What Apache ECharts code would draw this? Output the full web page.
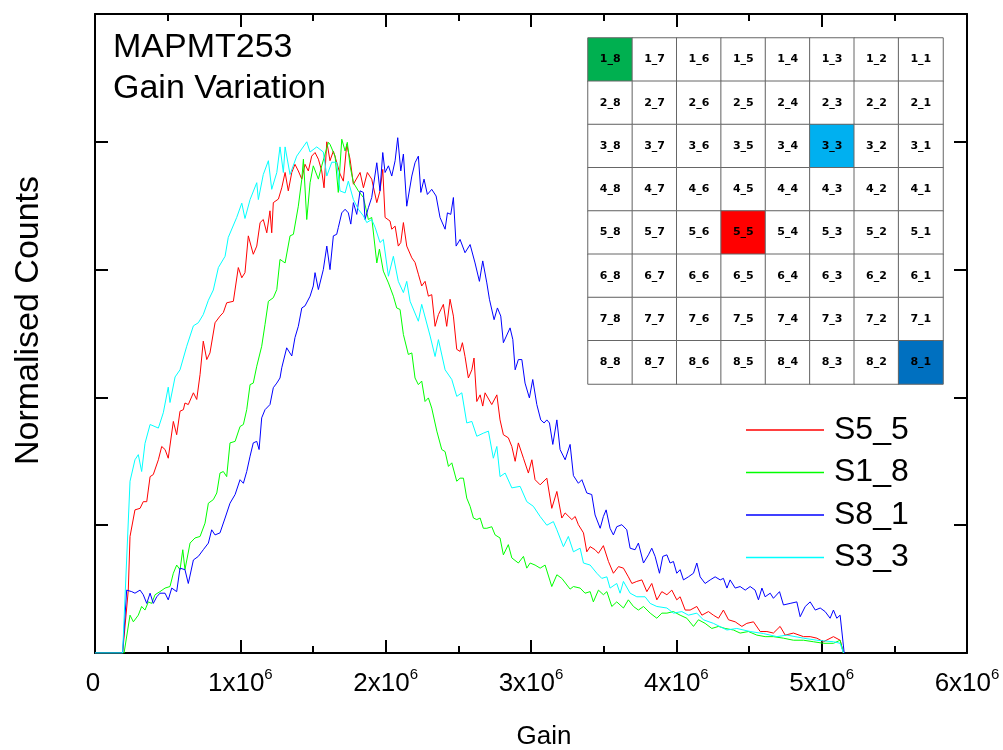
<!DOCTYPE html>
<html>
<head>
<meta charset="utf-8">
<script src="https://cdn.jsdelivr.net/npm/echarts@6/dist/echarts.min.js"></script>
<style>
  html, body { margin: 0; padding: 0; background: #fff; }
  #chart { width: 1003px; height: 750px; }
</style>
</head>
<body>
<div id="chart"></div>
<script>
// gain is stored in units of 1e6
const GAIN_UNIT = 1e6

const s5_5 = [[0,0],[0.19,0],[0.229,0.123],[0.241,0.228],[0.275,0.28],[0.31,0.283],[0.332,0.296],[0.356,0.296],[0.379,0.345],[0.401,0.349],[0.436,0.378],[0.459,0.404],[0.482,0.398],[0.504,0.381],[0.539,0.453],[0.562,0.427],[0.585,0.473],[0.608,0.476],[0.619,0.489],[0.642,0.486],[0.677,0.509],[0.7,0.496],[0.723,0.545],[0.745,0.61],[0.769,0.574],[0.791,0.587],[0.826,0.646],[0.86,0.659],[0.883,0.666],[0.906,0.685],[0.952,0.688],[0.986,0.754],[1.01,0.734],[1.032,0.744],[1.055,0.816],[1.089,0.78],[1.113,0.796],[1.136,0.842],[1.158,0.848],[1.182,0.822],[1.204,0.865],[1.216,0.822],[1.227,0.881],[1.262,0.888],[1.285,0.91],[1.308,0.94],[1.33,0.904],[1.354,0.94],[1.376,0.956],[1.399,0.943],[1.423,0.927],[1.445,0.956],[1.468,0.943],[1.491,0.972],[1.514,0.979],[1.537,0.966],[1.56,0.943],[1.576,0.91],[1.595,1.0],[1.617,0.963],[1.64,0.982],[1.663,0.96],[1.686,0.937],[1.709,0.923],[1.732,0.995],[1.755,0.966],[1.778,0.917],[1.824,0.94],[1.847,0.91],[1.874,0.94],[1.904,0.927],[1.939,0.881],[1.961,0.904],[1.98,0.946],[1.996,0.852],[2.03,0.845],[2.042,0.829],[2.065,0.835],[2.087,0.796],[2.104,0.803],[2.122,0.842],[2.145,0.796],[2.18,0.773],[2.202,0.764],[2.225,0.741],[2.248,0.718],[2.271,0.727],[2.294,0.698],[2.317,0.701],[2.34,0.639],[2.363,0.662],[2.397,0.682],[2.42,0.639],[2.443,0.692],[2.466,0.659],[2.489,0.594],[2.512,0.59],[2.528,0.607],[2.546,0.58],[2.569,0.538],[2.593,0.554],[2.608,0.577],[2.627,0.492],[2.65,0.505],[2.668,0.483],[2.684,0.509],[2.73,0.486],[2.765,0.505],[2.787,0.456],[2.81,0.427],[2.844,0.421],[2.868,0.404],[2.891,0.375],[2.913,0.411],[2.948,0.381],[2.982,0.352],[3.006,0.378],[3.028,0.339],[3.063,0.329],[3.109,0.342],[3.143,0.283],[3.178,0.316],[3.212,0.264],[3.235,0.274],[3.281,0.261],[3.304,0.267],[3.326,0.251],[3.361,0.235],[3.384,0.198],[3.407,0.208],[3.441,0.202],[3.464,0.195],[3.498,0.21],[3.533,0.179],[3.567,0.156],[3.602,0.169],[3.636,0.166],[3.67,0.149],[3.694,0.136],[3.728,0.14],[3.763,0.143],[3.797,0.12],[3.831,0.136],[3.866,0.104],[3.9,0.12],[3.935,0.114],[3.969,0.123],[4.003,0.104],[4.026,0.11],[4.061,0.084],[4.095,0.084],[4.141,0.091],[4.176,0.074],[4.221,0.081],[4.255,0.074],[4.29,0.068],[4.324,0.084],[4.359,0.065],[4.405,0.061],[4.451,0.052],[4.485,0.058],[4.531,0.061],[4.577,0.042],[4.623,0.042],[4.668,0.039],[4.714,0.052],[4.749,0.035],[4.806,0.039],[4.875,0.032],[4.921,0.032],[4.967,0.029],[5.012,0.022],[5.081,0.032],[5.127,0.025],[5.15,0]]

const s1_8 = [[0,0],[0.2,0],[0.241,0.074],[0.264,0.061],[0.298,0.074],[0.321,0.091],[0.344,0.084],[0.367,0.1],[0.39,0.097],[0.413,0.114],[0.447,0.12],[0.482,0.127],[0.516,0.13],[0.539,0.156],[0.562,0.172],[0.585,0.163],[0.604,0.202],[0.619,0.163],[0.654,0.215],[0.688,0.225],[0.723,0.228],[0.757,0.254],[0.78,0.293],[0.814,0.3],[0.838,0.313],[0.86,0.352],[0.883,0.355],[0.906,0.345],[0.929,0.411],[0.964,0.414],[0.998,0.443],[1.021,0.447],[1.044,0.476],[1.067,0.525],[1.089,0.528],[1.113,0.561],[1.147,0.6],[1.17,0.643],[1.193,0.688],[1.227,0.695],[1.251,0.711],[1.273,0.77],[1.308,0.763],[1.342,0.816],[1.365,0.819],[1.399,0.874],[1.423,0.927],[1.434,0.966],[1.457,0.848],[1.48,0.92],[1.502,0.953],[1.537,0.927],[1.56,0.953],[1.583,0.976],[1.606,0.999],[1.617,0.995],[1.652,0.972],[1.674,0.901],[1.698,1.005],[1.721,0.982],[1.736,0.999],[1.755,0.953],[1.778,0.92],[1.812,0.904],[1.847,0.891],[1.881,0.848],[1.904,0.852],[1.939,0.763],[1.957,0.79],[1.984,0.747],[2.019,0.724],[2.053,0.698],[2.076,0.675],[2.099,0.672],[2.122,0.623],[2.156,0.584],[2.18,0.587],[2.202,0.538],[2.225,0.525],[2.248,0.532],[2.271,0.492],[2.294,0.499],[2.317,0.479],[2.352,0.434],[2.386,0.398],[2.409,0.394],[2.432,0.365],[2.455,0.372],[2.489,0.336],[2.512,0.342],[2.535,0.342],[2.558,0.303],[2.581,0.287],[2.604,0.264],[2.627,0.261],[2.65,0.264],[2.672,0.244],[2.696,0.244],[2.73,0.247],[2.753,0.231],[2.787,0.225],[2.81,0.192],[2.844,0.212],[2.868,0.186],[2.913,0.176],[2.948,0.189],[2.971,0.166],[2.994,0.176],[3.028,0.172],[3.063,0.166],[3.097,0.172],[3.143,0.13],[3.178,0.153],[3.212,0.146],[3.269,0.125],[3.292,0.13],[3.338,0.127],[3.372,0.117],[3.407,0.12],[3.429,0.1],[3.464,0.123],[3.498,0.114],[3.522,0.12],[3.556,0.091],[3.59,0.1],[3.636,0.088],[3.67,0.104],[3.705,0.091],[3.739,0.084],[3.774,0.091],[3.82,0.078],[3.866,0.068],[3.9,0.078],[3.935,0.078],[3.98,0.081],[4.026,0.074],[4.072,0.068],[4.118,0.052],[4.152,0.065],[4.198,0.058],[4.244,0.048],[4.29,0.052],[4.336,0.048],[4.393,0.045],[4.439,0.039],[4.496,0.042],[4.554,0.035],[4.611,0.032],[4.668,0.032],[4.737,0.029],[4.806,0.025],[4.875,0.025],[4.944,0.022],[5.012,0.019],[5.081,0.019],[5.127,0.025],[5.15,0]]

const s8_1 = [[0,0],[0.19,0],[0.218,0.123],[0.253,0.12],[0.275,0.117],[0.31,0.123],[0.332,0.114],[0.356,0.097],[0.379,0.117],[0.401,0.097],[0.425,0.11],[0.447,0.117],[0.482,0.117],[0.504,0.104],[0.528,0.127],[0.562,0.12],[0.585,0.166],[0.619,0.163],[0.642,0.136],[0.677,0.182],[0.711,0.189],[0.745,0.202],[0.78,0.215],[0.803,0.241],[0.826,0.231],[0.86,0.235],[0.895,0.264],[0.929,0.293],[0.964,0.31],[0.998,0.339],[1.021,0.332],[1.044,0.355],[1.067,0.385],[1.089,0.411],[1.113,0.414],[1.129,0.398],[1.147,0.46],[1.17,0.476],[1.204,0.486],[1.227,0.519],[1.251,0.528],[1.273,0.538],[1.285,0.558],[1.319,0.597],[1.354,0.581],[1.376,0.617],[1.399,0.639],[1.423,0.675],[1.445,0.679],[1.48,0.698],[1.502,0.718],[1.514,0.744],[1.537,0.711],[1.571,0.75],[1.595,0.796],[1.617,0.75],[1.64,0.816],[1.663,0.819],[1.674,0.832],[1.698,0.861],[1.721,0.868],[1.743,0.861],[1.76,0.839],[1.778,0.881],[1.801,0.858],[1.824,0.904],[1.847,0.901],[1.858,0.848],[1.881,0.871],[1.904,0.891],[1.939,0.959],[1.961,0.904],[1.98,0.979],[1.996,0.94],[2.019,0.953],[2.042,0.933],[2.065,0.963],[2.083,1.008],[2.104,0.943],[2.122,0.976],[2.145,0.874],[2.18,0.933],[2.202,0.959],[2.225,0.972],[2.242,0.901],[2.264,0.927],[2.287,0.897],[2.317,0.907],[2.347,0.894],[2.374,0.852],[2.409,0.829],[2.425,0.861],[2.448,0.858],[2.466,0.891],[2.485,0.796],[2.512,0.809],[2.546,0.783],[2.581,0.799],[2.615,0.763],[2.645,0.727],[2.668,0.767],[2.696,0.724],[2.714,0.692],[2.746,0.652],[2.769,0.675],[2.792,0.659],[2.81,0.607],[2.856,0.636],[2.875,0.613],[2.891,0.554],[2.913,0.574],[2.937,0.574],[2.959,0.528],[2.989,0.499],[3.012,0.535],[3.04,0.486],[3.067,0.456],[3.09,0.45],[3.109,0.456],[3.127,0.45],[3.15,0.408],[3.178,0.456],[3.2,0.398],[3.235,0.378],[3.269,0.408],[3.292,0.347],[3.326,0.332],[3.35,0.339],[3.384,0.313],[3.418,0.31],[3.441,0.27],[3.476,0.244],[3.498,0.267],[3.517,0.28],[3.544,0.244],[3.567,0.231],[3.59,0.247],[3.625,0.251],[3.659,0.241],[3.682,0.205],[3.716,0.202],[3.739,0.215],[3.774,0.176],[3.808,0.192],[3.831,0.205],[3.854,0.189],[3.884,0.156],[3.907,0.189],[3.935,0.192],[3.957,0.176],[3.98,0.179],[4.003,0.156],[4.026,0.163],[4.049,0.143],[4.083,0.149],[4.118,0.156],[4.141,0.176],[4.164,0.149],[4.198,0.136],[4.233,0.143],[4.267,0.149],[4.302,0.143],[4.324,0.146],[4.348,0.127],[4.37,0.143],[4.405,0.127],[4.439,0.13],[4.474,0.123],[4.508,0.13],[4.542,0.123],[4.565,0.104],[4.589,0.127],[4.611,0.11],[4.646,0.117],[4.668,0.107],[4.71,0.12],[4.737,0.094],[4.783,0.097],[4.829,0.1],[4.852,0.071],[4.887,0.091],[4.921,0.1],[4.956,0.084],[4.99,0.088],[5.024,0.081],[5.058,0.068],[5.081,0.084],[5.104,0.068],[5.127,0.074],[5.139,0.074],[5.155,0]]

const s3_3 = [[0,0],[0.19,0],[0.241,0.336],[0.275,0.378],[0.298,0.388],[0.321,0.355],[0.344,0.41],[0.379,0.447],[0.436,0.44],[0.47,0.47],[0.504,0.52],[0.516,0.49],[0.551,0.54],[0.585,0.554],[0.631,0.6],[0.677,0.64],[0.711,0.646],[0.745,0.662],[0.78,0.69],[0.814,0.71],[0.849,0.754],[0.895,0.776],[0.917,0.813],[0.975,0.852],[1.01,0.88],[1.032,0.85],[1.067,0.887],[1.113,0.92],[1.124,0.887],[1.158,0.936],[1.193,0.963],[1.216,0.907],[1.251,0.94],[1.273,0.99],[1.296,0.94],[1.308,0.99],[1.342,0.936],[1.388,0.972],[1.457,1.0],[1.48,0.98],[1.526,0.99],[1.571,0.98],[1.595,0.933],[1.629,0.96],[1.663,0.96],[1.686,0.904],[1.721,0.9],[1.743,0.923],[1.778,0.887],[1.812,0.868],[1.847,0.855],[1.87,0.842],[1.904,0.848],[1.927,0.833],[1.961,0.803],[1.984,0.809],[2.019,0.737],[2.053,0.776],[2.087,0.727],[2.122,0.705],[2.145,0.727],[2.168,0.688],[2.225,0.649],[2.248,0.682],[2.306,0.62],[2.34,0.58],[2.363,0.613],[2.409,0.554],[2.455,0.535],[2.489,0.502],[2.524,0.509],[2.558,0.45],[2.593,0.453],[2.627,0.424],[2.672,0.43],[2.707,0.434],[2.741,0.381],[2.765,0.404],[2.787,0.345],[2.822,0.352],[2.868,0.323],[2.925,0.326],[2.971,0.296],[3.016,0.287],[3.063,0.267],[3.109,0.25],[3.154,0.257],[3.178,0.241],[3.223,0.208],[3.257,0.228],[3.292,0.198],[3.338,0.205],[3.361,0.176],[3.407,0.172],[3.453,0.156],[3.487,0.146],[3.522,0.149],[3.544,0.127],[3.59,0.136],[3.613,0.117],[3.636,0.14],[3.682,0.117],[3.728,0.11],[3.785,0.11],[3.82,0.097],[3.866,0.091],[3.935,0.088],[3.98,0.078],[4.038,0.081],[4.083,0.074],[4.141,0.078],[4.186,0.065],[4.255,0.058],[4.348,0.045],[4.416,0.048],[4.508,0.042],[4.6,0.038],[4.692,0.032],[4.761,0.035],[4.875,0.029],[4.967,0.025],[5.081,0.022],[5.127,0.019],[5.15,0]]

const seriesDefs = [
  { name: 'S5_5', data: s5_5, color: '#ff0000' },
  { name: 'S1_8', data: s1_8, color: '#00ff00' },
  { name: 'S8_1', data: s8_1, color: '#0000ff' },
  { name: 'S3_3', data: s3_3, color: '#00ffff' },
]

// pixel map inset
const mapRows = ['1', '2', '3', '4', '5', '6', '7', '8']
const mapCols = ['8', '7', '6', '5', '4', '3', '2', '1']
const markedCells = { '1_8': 1, '3_3': 2, '5_5': 3, '8_1': 4 }
const cellColors = ['#ffffff', '#00b050', '#00b0f0', '#ff0000', '#0070c0']

const FONT = 'Liberation Sans, Arial, sans-serif'

const mapData = []
mapRows.forEach((r, ri) => {
  mapCols.forEach((c, ci) => {
    mapData.push([ci, ri, markedCells[`${r}_${c}`] || 0])
  })
})

const frameLine = { lineStyle: { color: '#000', width: 2 } }
const majorTick = { show: true, inside: true, length: 13, lineStyle: { color: '#000', width: 2 } }
const minorTick = { show: true, splitNumber: 2, length: 7, lineStyle: { color: '#000', width: 2 } }

const gainAxis = (pos) => ({
  type: 'value',
  gridIndex: 0,
  position: pos,
  min: 0,
  max: 6 * GAIN_UNIT,
  interval: GAIN_UNIT,
  axisLine: { show: true, onZero: false, ...frameLine },
  axisTick: majorTick,
  minorTick,
  splitLine: { show: false },
  axisLabel: {
    show: pos === 'bottom',
    margin: 14,
    formatter: (v) => {
      const n = Math.round(v / GAIN_UNIT)
      return n === 0 ? '{b|0}{s| }' : `{b|${n}x10}{s|6}`
    },
    rich: {
      b: { fontFamily: FONT, fontSize: 26, color: '#000', verticalAlign: 'bottom' },
      s: { fontFamily: FONT, fontSize: 15, color: '#000', verticalAlign: 'top', padding: [0, 0, 15, 0] },
    },
  },
})

const countAxis = (pos) => ({
  type: 'value',
  gridIndex: 0,
  position: pos,
  min: 0,
  max: 1.25,
  interval: 0.25,
  axisLine: { show: true, onZero: false, ...frameLine },
  axisTick: majorTick,
  splitLine: { show: false },
  axisLabel: { show: false },
})

const chart = echarts.init(document.getElementById('chart'), null, { renderer: 'canvas' })

chart.setOption({
  animation: false,
  backgroundColor: '#fff',
  title: {
    text: 'MAPMT253\nGain Variation',
    left: 108,
    top: 22,
    textStyle: { fontFamily: FONT, fontSize: 34, fontWeight: 'normal', color: '#000', lineHeight: 41 },
  },
  legend: {
    orient: 'vertical',
    left: 741,
    top: 409,
    icon: 'rect',
    itemWidth: 78,
    itemHeight: 1.5,
    itemGap: 10.5,
    data: seriesDefs.map((s) => s.name),
    textStyle: { fontFamily: FONT, fontSize: 32, color: '#000', lineHeight: 32, padding: [0, 0, 0, 5] },
  },
  grid: [
    { left: 95, right: 36, top: 14, bottom: 97, outerBoundsMode: 'none' },
    { left: 588, top: 38, width: 355, height: 346, outerBoundsMode: 'none' },
  ],
  xAxis: [
    {
      ...gainAxis('bottom'),
      name: 'Gain',
      nameLocation: 'middle',
      nameGap: 71,
      nameTextStyle: { fontFamily: FONT, fontSize: 26, color: '#000', padding: [0, 0, 0, 26] },
    },
    gainAxis('top'),
    { type: 'category', gridIndex: 1, data: mapCols, show: false },
  ],
  yAxis: [
    {
      ...countAxis('left'),
      name: 'Normalised Counts',
      nameLocation: 'middle',
      nameGap: 49,
      nameTextStyle: { fontFamily: FONT, fontSize: 34, color: '#000', padding: [0, 0, 0, 26] },
    },
    countAxis('right'),
    { type: 'category', gridIndex: 1, data: mapRows, inverse: true, show: false },
  ],
  visualMap: {
    type: 'piecewise',
    show: false,
    seriesIndex: 4,
    dimension: 2,
    pieces: cellColors.map((c, i) => ({ value: i, color: c })),
  },
  series: [
    ...seriesDefs.map((s) => ({
      name: s.name,
      type: 'line',
      xAxisIndex: 0,
      yAxisIndex: 0,
      symbol: 'none',
      showSymbol: false,
      color: s.color,
      lineStyle: { color: s.color, width: 1 },
      data: s.data.map((p) => [p[0] * GAIN_UNIT, p[1]]),
    })),
    {
      name: 'pixels',
      type: 'heatmap',
      xAxisIndex: 2,
      yAxisIndex: 2,
      data: mapData,
      itemStyle: { borderColor: '#666', borderWidth: 1 },
      label: {
        show: true,
        fontFamily: 'DejaVu Sans',
        fontSize: 11,
        fontWeight: 'bold',
        color: '#000',
        formatter: (p) => `${mapRows[p.data[1]]}_${mapCols[p.data[0]]}`,
      },
      emphasis: { disabled: true },
    },
  ],
})
</script>
</body>
</html>
